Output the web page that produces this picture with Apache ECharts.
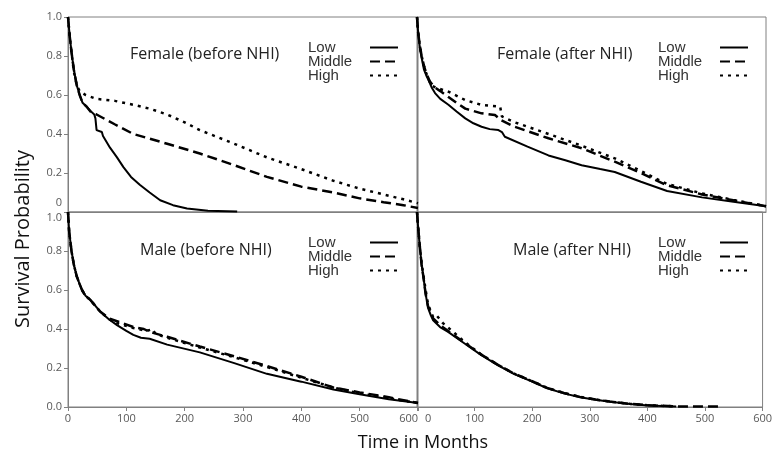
<!DOCTYPE html>
<html>
<head>
<meta charset="utf-8">
<script src="https://cdn.jsdelivr.net/npm/echarts@6/dist/echarts.min.js"></script>
<style>
html, body { margin: 0; padding: 0; background: #fff; }
#chart { width: 775px; height: 456px; }
</style>
</head>
<body>
<div id="chart"></div>
<script>
// 初始化echarts实例
let chart = echarts.init(document.getElementById('chart'));

// 面板标题
let panelTitles = ['Female (before NHI)', 'Female (after NHI)', 'Male (before NHI)', 'Male (after NHI)'];
let groups = ['Low', 'Middle', 'High'];
let xTicks = [0, 100, 200, 300, 400, 500, 600];

// [月份, 生存概率] — Female before NHI
let femaleBeforeLow = [[0, 1], [3, 0.9], [6, 0.82], [10, 0.73], [15, 0.65], [20, 0.6], [25, 0.56], [32, 0.54], [38, 0.52], [45, 0.5], [47, 0.48], [49, 0.42], [58, 0.41], [60, 0.39], [72, 0.33], [84, 0.28], [95, 0.23], [108, 0.18], [123, 0.14], [140, 0.1], [158, 0.06], [180, 0.035], [204, 0.018], [240, 0.006], [290, 0.002]];
let femaleBeforeMiddle = [[0, 1], [3, 0.9], [6, 0.82], [10, 0.73], [15, 0.65], [20, 0.6], [25, 0.56], [32, 0.54], [40, 0.51], [49, 0.5], [80, 0.45], [112, 0.4], [170, 0.35], [226, 0.3], [285, 0.24], [341, 0.18], [400, 0.13], [455, 0.1], [500, 0.07], [541, 0.05], [575, 0.035], [600, 0.02]];
let femaleBeforeHigh = [[0, 1], [3, 0.9], [6, 0.82], [10, 0.72], [15, 0.65], [20, 0.62], [30, 0.6], [49, 0.58], [80, 0.57], [112, 0.55], [140, 0.53], [170, 0.5], [200, 0.46], [226, 0.42], [285, 0.35], [341, 0.28], [400, 0.22], [455, 0.16], [500, 0.12], [541, 0.09], [575, 0.065], [600, 0.045]];

// Female after NHI
let femaleAfterLow = [[0, 1], [2, 0.92], [5, 0.84], [8, 0.79], [12, 0.73], [16, 0.7], [20, 0.675], [25, 0.64], [31, 0.61], [40, 0.58], [54, 0.55], [68, 0.515], [83, 0.48], [97, 0.455], [111, 0.437], [125, 0.425], [140, 0.42], [146, 0.41], [151, 0.386], [190, 0.335], [226, 0.29], [255, 0.265], [283, 0.24], [315, 0.22], [340, 0.205], [385, 0.155], [430, 0.108], [490, 0.075], [544, 0.053], [600, 0.03]];
let femaleAfterMiddle = [[0, 1], [2, 0.92], [5, 0.85], [8, 0.8], [12, 0.75], [16, 0.71], [22, 0.67], [30, 0.64], [40, 0.62], [54, 0.59], [68, 0.56], [83, 0.53], [111, 0.506], [134, 0.497], [145, 0.47], [168, 0.437], [226, 0.378], [283, 0.327], [340, 0.258], [385, 0.2], [429, 0.138], [490, 0.09], [544, 0.06], [600, 0.03]];
let femaleAfterHigh = [[0, 1], [2, 0.92], [5, 0.85], [8, 0.8], [12, 0.75], [16, 0.71], [24, 0.65], [35, 0.635], [54, 0.617], [83, 0.574], [111, 0.549], [143, 0.54], [146, 0.49], [168, 0.46], [226, 0.4], [283, 0.34], [340, 0.275], [385, 0.21], [429, 0.145], [490, 0.095], [544, 0.062], [600, 0.03]];

// Male before NHI
let maleBeforeLow = [[0, 1], [2, 0.9], [6, 0.8], [10, 0.73], [15, 0.67], [20, 0.63], [24, 0.6], [30, 0.57], [38, 0.55], [55, 0.49], [70, 0.45], [84, 0.42], [100, 0.39], [112, 0.37], [125, 0.355], [140, 0.35], [170, 0.32], [226, 0.28], [285, 0.225], [341, 0.17], [400, 0.13], [455, 0.09], [500, 0.065], [550, 0.04], [600, 0.02]];
let maleBeforeMiddle = [[0, 1], [2, 0.9], [6, 0.8], [10, 0.73], [15, 0.67], [20, 0.63], [24, 0.6], [30, 0.57], [38, 0.55], [55, 0.49], [70, 0.455], [84, 0.44], [112, 0.41], [130, 0.4], [140, 0.385], [170, 0.36], [226, 0.31], [285, 0.26], [341, 0.21], [400, 0.155], [455, 0.1], [500, 0.075], [550, 0.05], [600, 0.02]];
let maleBeforeHigh = [[0, 1], [2, 0.9], [6, 0.8], [10, 0.73], [15, 0.67], [20, 0.63], [24, 0.6], [30, 0.57], [38, 0.55], [55, 0.49], [70, 0.45], [84, 0.43], [112, 0.405], [135, 0.39], [145, 0.4], [150, 0.375], [170, 0.355], [226, 0.305], [285, 0.255], [341, 0.205], [400, 0.15], [455, 0.1], [500, 0.07], [550, 0.045], [600, 0.02]];

// Male after NHI
let maleAfterLow = [[0, 1], [2, 0.92], [5, 0.82], [8, 0.73], [11, 0.67], [15, 0.58], [19, 0.51], [24, 0.47], [28, 0.445], [40, 0.41], [54, 0.385], [82, 0.327], [111, 0.267], [140, 0.215], [168, 0.17], [200, 0.13], [226, 0.096], [255, 0.07], [283, 0.05], [310, 0.037], [335, 0.027], [370, 0.015], [401, 0.008], [450, 0.002]];
let maleAfterMiddle = [[0, 1], [2, 0.92], [5, 0.82], [8, 0.73], [11, 0.67], [15, 0.58], [19, 0.52], [24, 0.48], [28, 0.455], [40, 0.42], [54, 0.39], [82, 0.33], [111, 0.27], [140, 0.217], [168, 0.172], [200, 0.132], [226, 0.098], [255, 0.072], [283, 0.052], [310, 0.038], [335, 0.028], [370, 0.016], [401, 0.009], [450, 0.003], [530, 0.002]];
let maleAfterHigh = [[0, 1], [2, 0.92], [5, 0.82], [8, 0.74], [11, 0.68], [15, 0.6], [19, 0.53], [24, 0.49], [28, 0.46], [34, 0.47], [45, 0.43], [65, 0.38], [82, 0.335], [111, 0.27], [140, 0.217], [168, 0.172], [200, 0.132], [226, 0.098], [255, 0.072], [283, 0.052], [310, 0.038], [335, 0.028], [370, 0.016], [401, 0.009], [450, 0.003]];

let panelData = [
    [femaleBeforeLow, femaleBeforeMiddle, femaleBeforeHigh],
    [femaleAfterLow, femaleAfterMiddle, femaleAfterHigh],
    [maleBeforeLow, maleBeforeMiddle, maleBeforeHigh],
    [maleAfterLow, maleAfterMiddle, maleAfterHigh]
];

let lineTypes = ['solid', [10, 5], [3, 5]];
let lineWidths = [2, 2.5, 2.5];

let gridPos = [
    { left: 68, top: 17, width: 350, height: 195 },
    { left: 417, top: 17, width: 349, height: 195 },
    { left: 68, top: 212, width: 350, height: 195 },
    { left: 417, top: 212, width: 349, height: 195 }
];

let axisGray = '#808080';
let labelGray = '#595959';

let grids = gridPos.map(g => Object.assign({
    show: true,
    borderColor: axisGray,
    borderWidth: 1
}, g));

let xAxes = gridPos.map((g, i) => ({
    gridIndex: i,
    type: 'value',
    min: 0,
    max: 600,
    interval: 100,
    axisLine: { show: true, onZero: false, lineStyle: { color: axisGray, width: 1 } },
    axisTick: { show: i >= 2, length: 4, lineStyle: { color: axisGray } },
    splitLine: { show: false },
    axisLabel: {
        show: i >= 2,
        color: labelGray,
        fontSize: 11,
        fontFamily: 'Open Sans',
        margin: 6,
        alignMinLabel: i === 3 ? 'left' : 'center',
        alignMaxLabel: i === 2 ? 'right' : 'center',
        formatter: v => (i === 3 && v === 0) ? '{p|0}' : String(v),
        rich: { p: { padding: [0, 0, 0, 8], color: labelGray, fontSize: 11, fontFamily: 'Open Sans' } }
    }
}));

let yAxes = gridPos.map((g, i) => ({
    gridIndex: i,
    type: 'value',
    min: 0,
    max: 1,
    interval: 0.2,
    axisLine: { show: true, lineStyle: { color: axisGray, width: 1 } },
    axisTick: { show: i === 0 || i === 2, length: 4, lineStyle: { color: axisGray } },
    splitLine: { show: false },
    axisLabel: {
        show: i === 0 || i === 2,
        color: labelGray,
        fontSize: 11,
        fontFamily: 'Open Sans',
        margin: 6,
        formatter: function (v) {
            if (i === 0 && v === 0) return '{up|0}';
            if (i === 2 && v === 1) return '{down|1.0}';
            return v.toFixed(1);
        },
        rich: {
            up: { padding: [0, 0, 18, 0], color: labelGray, fontSize: 11, fontFamily: 'Open Sans' },
            down: { padding: [12, 0, 0, 0], color: labelGray, fontSize: 11, fontFamily: 'Open Sans' }
        }
    }
}));

let series = [];
panelData.forEach((sets, p) => {
    sets.forEach((d, k) => {
        series.push({
            name: groups[k],
            type: 'line',
            xAxisIndex: p,
            yAxisIndex: p,
            data: d,
            symbol: 'none',
            showSymbol: false,
            silent: true,
            lineStyle: { color: '#000', width: lineWidths[k], type: lineTypes[k] },
            itemStyle: { color: '#000' }
        });
    });
});

// 标题位置
let titlePos = [[130, 46], [497, 46], [140, 242], [513, 242]];
let titles = panelTitles.map((t, i) => ({
    text: t,
    left: titlePos[i][0],
    top: titlePos[i][1],
    padding: 0,
    textStyle: { fontFamily: 'Open Sans', fontSize: 16, fontWeight: 'normal', color: '#222' }
}));

// 图例位置
let legendPos = [[303, 35], [653, 35], [303, 230], [653, 230]];
let legends = legendPos.map(p => ({
    data: groups,
    orient: 'vertical',
    left: p[0],
    top: p[1],
    align: 'right',
    itemWidth: 28,
    itemHeight: 10,
    itemGap: -1,
    selectedMode: false,
    itemStyle: { opacity: 0 },
    formatter: '{a|{name}}',
    textStyle: {
        fontFamily: 'Liberation Sans', fontSize: 15, color: '#333', lineHeight: 13,
        rich: { a: { width: 57, align: 'left', fontFamily: 'Liberation Sans', fontSize: 15, color: '#333', lineHeight: 13 } }
    }
}));

let option = {
    backgroundColor: '#fff',
    animation: false,
    title: titles,
    legend: legends,
    grid: grids,
    xAxis: xAxes,
    yAxis: yAxes,
    series: series,
    graphic: [{
        type: 'text',
        x: 23,
        y: 239,
        rotation: Math.PI / 2,
        style: {
            text: 'Survival Probability',
            fontFamily: 'Open Sans',
            fontSize: 20,
            fill: '#111',
            align: 'center',
            verticalAlign: 'middle'
        }
    }, {
        type: 'text',
        x: 423,
        y: 443,
        style: {
            text: 'Time in Months',
            fontFamily: 'Open Sans',
            fontSize: 18,
            fill: '#111',
            align: 'center',
            verticalAlign: 'middle'
        }
    }]
};

window.onresize = chart.resize;
chart.setOption(option);
</script>
</body>
</html>
